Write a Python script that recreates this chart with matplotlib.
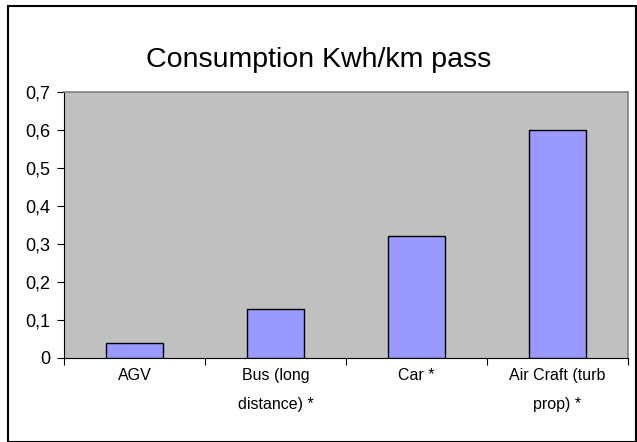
import matplotlib
matplotlib.use("Agg")
import matplotlib.pyplot as plt
from matplotlib.patches import Rectangle

plt.rcParams['font.family'] = ['Liberation Sans', 'DejaVu Sans']

# data
categories = ["AGV", "Bus (long\ndistance) *", "Car *", "Air Craft (turb\nprop) *"]
consumption = [0.04, 0.13, 0.32, 0.60]
y_ticks = [0, 0.1, 0.2, 0.3, 0.4, 0.5, 0.6, 0.7]
y_tick_labels = ["0", "0,1", "0,2", "0,3", "0,4", "0,5", "0,6", "0,7"]

fig = plt.figure(figsize=(6.37, 4.42), dpi=100)
fig.patch.set_facecolor("white")

# outer chart frame
fig.patches.append(Rectangle((8 / 637, 0.001), 1 - 8 / 637 - 0.001, 1 - 6 / 442 - 0.001,
                             transform=fig.transFigure, fill=False, edgecolor="black", linewidth=1.5))

ax = fig.add_axes([64 / 637, 1 - 358 / 442, (628 - 64) / 637, (358 - 92) / 442])
ax.set_facecolor("#C0C0C0")

x = list(range(len(categories)))
ax.bar(x, consumption, width=0.41, color="#9999FF", edgecolor="black", linewidth=1.0, zorder=3)

ax.set_xlim(-0.5, len(categories) - 0.5)
ax.set_ylim(0, 0.7)

ax.set_yticks(y_ticks)
ax.set_yticklabels(y_tick_labels, fontsize=13)
ax.tick_params(axis="y", direction="out", length=5, width=0.8, pad=5)

# category boundary ticks and centred labels
ax.set_xticks([i - 0.5 for i in range(len(categories) + 1)])
ax.set_xticklabels([])
ax.tick_params(axis="x", which="major", direction="out", length=5, width=0.8)
ax.set_xticks(x, minor=True)
ax.set_xticklabels(categories, minor=True, fontsize=11.5, linespacing=2.15)
ax.tick_params(axis="x", which="minor", length=0, pad=7)

for side in ["top", "right"]:
    ax.spines[side].set_color("#808080")
    ax.spines[side].set_linewidth(1.2)
for side in ["left", "bottom"]:
    ax.spines[side].set_color("black")
    ax.spines[side].set_linewidth(0.8)

fig.text(0.5, 1 - 60 / 442, "Consumption Kwh/km pass", ha="center", va="center", fontsize=20.5)

fig.savefig("out.png", dpi=100)
